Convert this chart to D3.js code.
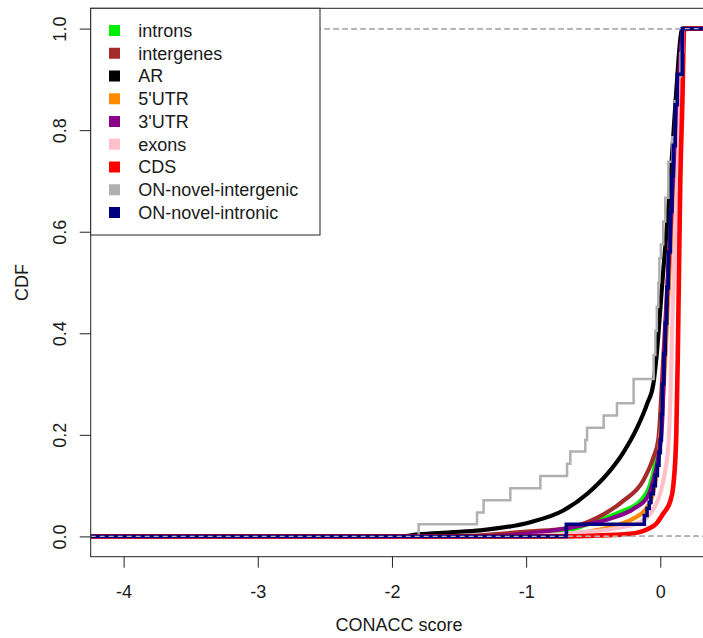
<!DOCTYPE html>
<html><head><meta charset="utf-8">
<script src="https://cdn.jsdelivr.net/npm/d3@7"></script>
<style>
body{margin:0;background:#fff}
svg{display:block}
text{font-family:"Liberation Sans",Arial,Helvetica,sans-serif;fill:#1a1a1a}
</style>
</head><body>
<svg id="chart" width="703" height="638"></svg>
<script>
// ---------- data ----------
const categories = ["introns","intergenes","AR","5'UTR","3'UTR","exons","CDS","ON-novel-intergenic","ON-novel-intronic"];
const seriesColors = ["#00ee00","#a52a2a","#000000","#ff8c00","#8b008b","#ffc0cb","#ff0000","#b0b0b0","#000080"];
const xTicks = [-4,-3,-2,-1,0];
const xTickLabels = ["-4","-3","-2","-1","0"];
const yTicks = [0,0.2,0.4,0.6,0.8,1.0];
const yTickLabels = ["0.0","0.2","0.4","0.6","0.8","1.0"];
const xDataRange = [-4.075, 0.18];

// CDF: score -> cumulative fraction
const intronsScore = [-1.192,-0.745,-0.499,-0.298,-0.149,-0.075,-0.037,-0.015,0.030,0.075,0.127,0.176];
const intronsCdf   = [0,0.008,0.028,0.048,0.07,0.103,0.143,0.175,0.35,0.6,0.85,1];

const intergenesScore = [-1.490,-1.192,-0.969,-0.723,-0.469,-0.276,-0.127,-0.052,-0.015,0.022,0.075,0.127,0.176];
const intergenesCdf   = [0,0.005,0.01,0.015,0.037,0.07,0.11,0.155,0.19,0.35,0.6,0.85,1];

const arScore = [-1.937,-1.803,-1.565,-1.341,-0.969,-0.723,-0.544,-0.395,-0.276,-0.171,-0.097,-0.052,-0.030,0.015,0.075,0.112,0.165];
const arCdf   = [0,0.004,0.008,0.012,0.028,0.051,0.084,0.123,0.165,0.215,0.262,0.30,0.35,0.5,0.7,0.85,1];

const utr5Score = [-0.894,-0.522,-0.298,-0.201,-0.099,-0.062,-0.015,0.037,0.082,0.134,0.176];
const utr5Cdf   = [0,0.01,0.024,0.035,0.057,0.077,0.15,0.35,0.6,0.85,1];

const utr3Score = [-1.341,-0.894,-0.596,-0.350,-0.201,-0.097,-0.052,-0.015,0.013,0.030,0.075,0.127,0.176];
const utr3Cdf   = [0,0.008,0.021,0.037,0.054,0.077,0.11,0.155,0.222,0.35,0.6,0.85,1];

const exonsScore = [-1.043,-0.596,-0.350,-0.149,-0.075,-0.037,0,0.037,0.060,0.075,0.089,0.112,0.149,0.18];
const exonsCdf   = [0,0.008,0.015,0.028,0.044,0.06,0.085,0.13,0.18,0.27,0.42,0.6,0.85,1];

const cdsScore = [-0.708,-0.447,-0.224,-0.097,-0.030,0.022,0.075,0.097,0.119,0.130,0.138,0.149,0.164,0.178];
const cdsCdf   = [0,0.002,0.005,0.014,0.025,0.045,0.07,0.1,0.2,0.35,0.5,0.7,0.85,1];

// step functions (few observations)
const novelIntergenicScore = [-1.801,-1.366,-1.317,-1.118,-0.894,-0.695,-0.671,-0.559,-0.546,-0.422,-0.323,-0.199,-0.050,-0.037,-0.026,-0.015,-0.007,0.004,0.022,0.037,0.060,0.089,0.110,0.127,0.150,0.171];
const novelIntergenicCdf   = [0.024,0.047,0.071,0.095,0.119,0.143,0.167,0.190,0.214,0.238,0.262,0.310,0.357,0.405,0.452,0.5,0.548,0.575,0.62,0.667,0.738,0.786,0.857,0.905,0.952,1.0];

const novelIntronicScore = [-0.700,-0.119,-0.099,-0.082,-0.070,-0.052,-0.037,-0.022,-0.010,0.000,0.008,0.015,0.026,0.037,0.048,0.060,0.075,0.086,0.097,0.112,0.127,0.164];
const novelIntronicCdf   = [0.024,0.041,0.055,0.067,0.084,0.10,0.12,0.14,0.165,0.19,0.24,0.30,0.36,0.42,0.49,0.56,0.64,0.71,0.77,0.85,0.91,1.0];

const seriesScores = [intronsScore,intergenesScore,arScore,utr5Score,utr3Score,exonsScore,cdsScore,novelIntergenicScore,novelIntronicScore];
const seriesCdfs   = [intronsCdf,intergenesCdf,arCdf,utr5Cdf,utr3Cdf,exonsCdf,cdsCdf,novelIntergenicCdf,novelIntronicCdf];
const seriesIsStep = [false,false,false,false,false,false,false,true,true];
const seriesWidth  = [4.2,4.2,4.2,4.2,4.2,4.2,4.6,2.5,3.6];

// ---------- layout ----------
const svg = d3.select("#chart");
const box = {left:90.7, right:707.3, top:8.3, bottom:556.7};
const pad = (xDataRange[1]-xDataRange[0])*0.04;
const x = d3.scaleLinear().domain([xDataRange[0]-pad, xDataRange[1]+pad]).range([box.left, box.right]);
const y = d3.scaleLinear().domain([-0.04, 1.04]).range([box.bottom, box.top]);

svg.append("clipPath").attr("id","plotclip").append("rect")
  .attr("x",box.left).attr("y",box.top).attr("width",box.right-box.left).attr("height",box.bottom-box.top);

const plot = svg.append("g").attr("clip-path","url(#plotclip)");
const [xmin, xmax] = x.domain();

function drawZeroOne(){
  plot.append("g").selectAll("line").data([0,1]).join("line")
    .attr("x1",x(xmin)).attr("x2",x(xmax))
    .attr("y1",d=>y(d)).attr("y2",d=>y(d))
    .attr("stroke","#b3b3b3").attr("stroke-width",1.2).attr("stroke-dasharray","5,4");
}

categories.forEach((name,i)=>{
  const s = seriesScores[i], c = seriesCdfs[i];
  const pts = [[xmin,0]].concat(s.map((v,k)=>[v,c[k]])).concat([[xmax,1]]);
  const line = d3.line().x(d=>x(d[0])).y(d=>y(d[1]))
    .curve(seriesIsStep[i] ? d3.curveStepAfter : d3.curveMonotoneX);
  plot.append("path").datum(pts)
    .attr("d",line).attr("fill","none")
    .attr("stroke",seriesColors[i]).attr("stroke-width",seriesWidth[i])
    .attr("stroke-linejoin","miter").attr("stroke-linecap","butt");
  drawZeroOne();
});

// ---------- frame and axes ----------
svg.append("rect").attr("x",box.left).attr("y",box.top)
  .attr("width",box.right-box.left).attr("height",box.bottom-box.top)
  .attr("fill","none").attr("stroke","#222").attr("stroke-width",1);

const xAxis = svg.append("g").attr("transform",`translate(0,${box.bottom})`)
  .call(d3.axisBottom(x).tickValues(xTicks).tickSize(11).tickPadding(17.5).tickFormat((d,i)=>xTickLabels[i]));
xAxis.select(".domain").remove();
xAxis.selectAll("line").attr("stroke","#222");
xAxis.selectAll("text").attr("font-size",18).attr("fill","#1a1a1a")
  .style("font-family",'"Liberation Sans",Arial,sans-serif');

const yAxis = svg.append("g").attr("transform",`translate(${box.left},0)`)
  .call(d3.axisLeft(y).tickValues(yTicks).tickSize(11).tickFormat((d,i)=>yTickLabels[i]));
yAxis.select(".domain").remove();
yAxis.selectAll("line").attr("stroke","#222");
yAxis.selectAll("text")
  .attr("x",null).attr("dy",null)
  .attr("text-anchor","middle")
  .attr("transform","translate(-24.7,0) rotate(-90)")
  .attr("font-size",18).attr("fill","#1a1a1a")
  .style("font-family",'"Liberation Sans",Arial,sans-serif');

svg.append("text").attr("x",(box.left+box.right)/2).attr("y",631)
  .attr("text-anchor","middle").attr("font-size",18).text("CONACC score");
svg.append("text").attr("transform",`translate(27.5,${(y(0)+y(1))/2}) rotate(-90)`)
  .attr("text-anchor","middle").attr("font-size",18).text("CDF");

// ---------- legend ----------
const lg = svg.append("g");
lg.append("rect").attr("x",box.left).attr("y",box.top)
  .attr("width",229.3).attr("height",226.7)
  .attr("fill","#fff").attr("stroke","#222").attr("stroke-width",1);
const rows = lg.selectAll("g.row").data(categories).join("g")
  .attr("transform",(d,i)=>`translate(0,${30.5+22.75*i})`);
rows.append("rect").attr("x",109).attr("y",-5.5).attr("width",11).attr("height",11)
  .attr("fill",(d,i)=>seriesColors[i]);
rows.append("text").attr("x",138.3).attr("dy","0.36em").attr("font-size",18).text(d=>d);
</script>
</body></html>
